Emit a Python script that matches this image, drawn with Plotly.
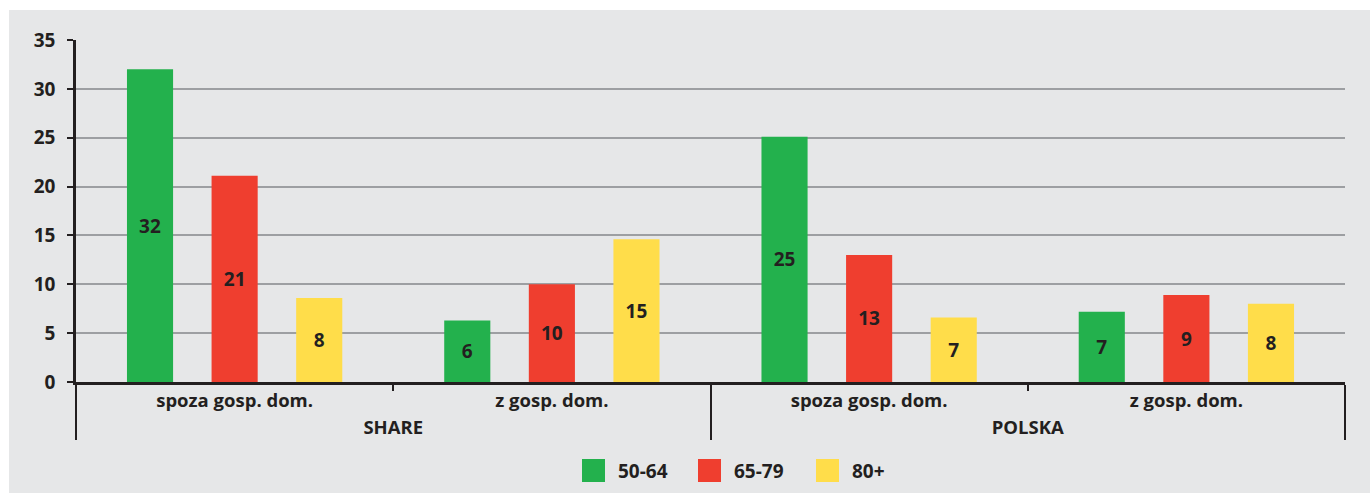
import plotly.graph_objects as go

groups = ["SHARE", "SHARE", "POLSKA", "POLSKA"]
subcats = ["spoza gosp. dom.", "z gosp. dom.", "spoza gosp. dom.", "z gosp. dom."]
series = ["50-64", "65-79", "80+"]
values = {
    "50-64": [32.0, 6.3, 25.1, 7.2],
    "65-79": [21.1, 10.0, 13.0, 8.9],
    "80+": [8.6, 14.6, 6.6, 8.0],
}
labels = {
    "50-64": ["32", "6", "25", "7"],
    "65-79": ["21", "10", "13", "9"],
    "80+": ["8", "15", "7", "8"],
}
colors = {"50-64": "#23b14d", "65-79": "#ef3e2f", "80+": "#ffdd4a"}
y_ticks = [0, 5, 10, 15, 20, 25, 30, 35]

FONT = "Open Sans"
DARK = "#231f20"
BG = "#e6e7e8"

W, H = 1370, 493
L, R, T, B = 76, 25, 40, 111
PW, PH = W - L - R, H - T - B


def px(x):
    return (x - L) / PW


def py(y):
    return (H - B - y) / PH


fig = go.Figure()
for s in series:
    fig.add_trace(go.Bar(
        x=[groups, subcats], y=values[s], name=s,
        marker=dict(color=colors[s], line=dict(width=0)),
        text=labels[s], textposition="inside", insidetextanchor="middle",
        textangle=0, constraintext="none",
        textfont=dict(family=FONT, size=19, color=DARK, weight="bold"),
        showlegend=False, hoverinfo="skip",
    ))

shapes = [dict(type="rect", xref="paper", yref="paper",
               x0=px(9), x1=px(1372), y0=py(495), y1=py(10),
               fillcolor=BG, line=dict(width=0), layer="below")]
annotations = []
legend_x = [582, 698, 816]
for s, lx in zip(series, legend_x):
    shapes.append(dict(type="rect", xref="paper", yref="paper",
                       x0=px(lx), x1=px(lx + 23), y0=py(482), y1=py(459),
                       fillcolor=colors[s], line=dict(width=0)))
    annotations.append(dict(xref="paper", yref="paper", x=px(lx + 34), y=py(471),
                            text=s, showarrow=False, xanchor="left", yanchor="middle",
                            font=dict(family=FONT, size=19, color=DARK, weight="bold")))

fig.update_layout(
    width=W, height=H,
    margin=dict(l=L, r=R, t=T, b=B, pad=0),
    paper_bgcolor="white", plot_bgcolor="rgba(0,0,0,0)",
    barmode="group", bargap=0.2, bargroupgap=0.455,
    shapes=shapes, annotations=annotations,
    font=dict(family=FONT, color=DARK),
    xaxis=dict(
        type="multicategory", showline=True, linecolor=DARK, linewidth=2.5,
        ticks="outside", ticklen=6, tickwidth=2, tickcolor=DARK,
        showdividers=True, dividercolor=DARK, dividerwidth=2,
        tickfont=dict(family=FONT, size=18.5, color=DARK, weight="bold"),
        showgrid=False, zeroline=False,
    ),
    yaxis=dict(
        range=[0, 35], tickvals=y_ticks, showline=True, linecolor=DARK, linewidth=2.5,
        ticks="outside", ticklen=6, tickwidth=2, tickcolor=DARK,
        ticklabelstandoff=8,
        tickfont=dict(family=FONT, size=19, color=DARK, weight="bold"),
        showgrid=True, gridcolor="#9d9fa2", gridwidth=1.5, zeroline=False,
    ),
)

fig.write_html("out.html", config={"displayModeBar": False},
               post_script="document.body.style.margin='0';")
